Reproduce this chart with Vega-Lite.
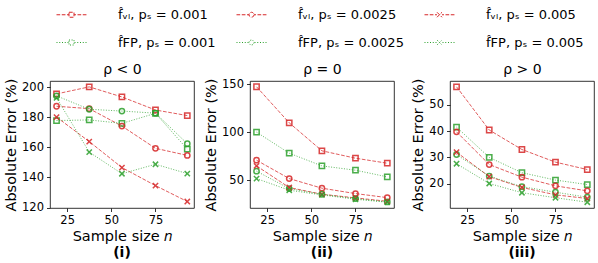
{
"$schema":"https://vega.github.io/schema/vega-lite/v6.json",
"padding":{"left":3,"right":3,"top":8,"bottom":1},
"config":{
 "font":"DejaVu Sans",
 "view":{"stroke":"#000","strokeWidth":0.8},
 "axis":{"labelFontSize":11.5,"titleFontSize":14.5,"titleFontWeight":"normal","tickSize":3.5,"tickColor":"#000","tickWidth":0.8,"labelColor":"#000","titleColor":"#000","grid":false,"domain":false,"labelPadding":3,"titlePadding":3,"labelFlush":false},
 "legend":{"orient":"none","direction":"horizontal","legendX":0,"legendY":-73,"columns":3,"labelFontSize":13,"labelColor":"#000","symbolSize":25,"symbolStrokeWidth":1,"symbolOpacity":1,"symbolOffset":15,"labelOffset":40,"columnPadding":14,"rowPadding":14},
 "title":{"color":"#000"}
},
"data":{"values":[
{"p":"neg","s":"vl1","n":19,"e":195.6},{"p":"neg","s":"vl1","n":37.5,"e":200.3},{"p":"neg","s":"vl1","n":56,"e":193.6},{"p":"neg","s":"vl1","n":75,"e":184.9},{"p":"neg","s":"vl1","n":93,"e":181.2},
{"p":"neg","s":"vl2","n":19,"e":187.4},{"p":"neg","s":"vl2","n":37.5,"e":185.8},{"p":"neg","s":"vl2","n":56,"e":174.2},{"p":"neg","s":"vl2","n":75,"e":159.4},{"p":"neg","s":"vl2","n":93,"e":154.7},
{"p":"neg","s":"vl3","n":19,"e":180.2},{"p":"neg","s":"vl3","n":37.5,"e":163.9},{"p":"neg","s":"vl3","n":56,"e":146.6},{"p":"neg","s":"vl3","n":75,"e":134.6},{"p":"neg","s":"vl3","n":93,"e":124.0},
{"p":"neg","s":"fp1","n":19,"e":177.9},{"p":"neg","s":"fp1","n":37.5,"e":178.3},{"p":"neg","s":"fp1","n":56,"e":176.0},{"p":"neg","s":"fp1","n":75,"e":182.7},{"p":"neg","s":"fp1","n":93,"e":158.9},
{"p":"neg","s":"fp2","n":19,"e":194.3},{"p":"neg","s":"fp2","n":37.5,"e":185.4},{"p":"neg","s":"fp2","n":56,"e":184.2},{"p":"neg","s":"fp2","n":75,"e":182.8},{"p":"neg","s":"fp2","n":93,"e":162.5},
{"p":"neg","s":"fp3","n":19,"e":193.0},{"p":"neg","s":"fp3","n":37.5,"e":156.9},{"p":"neg","s":"fp3","n":56,"e":142.5},{"p":"neg","s":"fp3","n":75,"e":148.8},{"p":"neg","s":"fp3","n":93,"e":142.6},
{"p":"zero","s":"vl1","n":19,"e":147.2},{"p":"zero","s":"vl1","n":37.5,"e":109.7},{"p":"zero","s":"vl1","n":56,"e":80.6},{"p":"zero","s":"vl1","n":75,"e":72.9},{"p":"zero","s":"vl1","n":93,"e":67.7},
{"p":"zero","s":"vl2","n":19,"e":70.8},{"p":"zero","s":"vl2","n":37.5,"e":51.7},{"p":"zero","s":"vl2","n":56,"e":41.7},{"p":"zero","s":"vl2","n":75,"e":36.1},{"p":"zero","s":"vl2","n":93,"e":31.9},
{"p":"zero","s":"vl3","n":19,"e":64.9},{"p":"zero","s":"vl3","n":37.5,"e":42.4},{"p":"zero","s":"vl3","n":56,"e":35.4},{"p":"zero","s":"vl3","n":75,"e":31.6},{"p":"zero","s":"vl3","n":93,"e":28.1},
{"p":"zero","s":"fp1","n":19,"e":100.0},{"p":"zero","s":"fp1","n":37.5,"e":78.1},{"p":"zero","s":"fp1","n":56,"e":64.9},{"p":"zero","s":"fp1","n":75,"e":60.4},{"p":"zero","s":"fp1","n":93,"e":53.5},
{"p":"zero","s":"fp2","n":19,"e":59.4},{"p":"zero","s":"fp2","n":37.5,"e":41.3},{"p":"zero","s":"fp2","n":56,"e":35.4},{"p":"zero","s":"fp2","n":75,"e":30.9},{"p":"zero","s":"fp2","n":93,"e":27.4},
{"p":"zero","s":"fp3","n":19,"e":51.7},{"p":"zero","s":"fp3","n":37.5,"e":39.6},{"p":"zero","s":"fp3","n":56,"e":34.7},{"p":"zero","s":"fp3","n":75,"e":30.2},{"p":"zero","s":"fp3","n":93,"e":27.1},
{"p":"pos","s":"vl1","n":19,"e":56.8},{"p":"pos","s":"vl1","n":37.5,"e":40.4},{"p":"pos","s":"vl1","n":56,"e":33.0},{"p":"pos","s":"vl1","n":75,"e":28.2},{"p":"pos","s":"vl1","n":93,"e":25.4},
{"p":"pos","s":"vl2","n":19,"e":39.7},{"p":"pos","s":"vl2","n":37.5,"e":27.3},{"p":"pos","s":"vl2","n":56,"e":22.5},{"p":"pos","s":"vl2","n":75,"e":19.2},{"p":"pos","s":"vl2","n":93,"e":17.3},
{"p":"pos","s":"vl3","n":19,"e":32.0},{"p":"pos","s":"vl3","n":37.5,"e":22.7},{"p":"pos","s":"vl3","n":56,"e":18.6},{"p":"pos","s":"vl3","n":75,"e":15.8},{"p":"pos","s":"vl3","n":93,"e":14.4},
{"p":"pos","s":"fp1","n":19,"e":41.5},{"p":"pos","s":"fp1","n":37.5,"e":30.0},{"p":"pos","s":"fp1","n":56,"e":24.2},{"p":"pos","s":"fp1","n":75,"e":21.4},{"p":"pos","s":"fp1","n":93,"e":19.7},
{"p":"pos","s":"fp2","n":19,"e":31.1},{"p":"pos","s":"fp2","n":37.5,"e":22.9},{"p":"pos","s":"fp2","n":56,"e":18.9},{"p":"pos","s":"fp2","n":75,"e":16.8},{"p":"pos","s":"fp2","n":93,"e":14.9},
{"p":"pos","s":"fp3","n":19,"e":27.6},{"p":"pos","s":"fp3","n":37.5,"e":20.1},{"p":"pos","s":"fp3","n":56,"e":16.6},{"p":"pos","s":"fp3","n":75,"e":14.7},{"p":"pos","s":"fp3","n":93,"e":13.0}
]},
"bounds":"flush",
"spacing":56,
"hconcat":[
{
"title":{"text":"(i)","orient":"bottom","fontWeight":"bold","fontSize":14,"offset":3},
"width":144,"height":127,
"transform":[{"filter":{"field":"p","equal":"neg"}}],
"layer":[
 {"mark":{"type":"point","filled":false,"opacity":0},
  "encoding":{
   "x":{"field":"n","type":"quantitative","scale":{"domain":[15.3,96.8],"nice":false,"zero":false},"axis":null},
   "y":{"field":"e","type":"quantitative","scale":{"domain":[119.7,204.2],"nice":false,"zero":false},"axis":{"values":[120,140,160,180,200],"title":"Absolute Error (%)"}},
   "color":{"field":"s","type":"nominal","scale":{"domain":["vl1","vl2","vl3","fp1","fp2","fp3"],"range":["#d62728","#d62728","#d62728","#2ca02c","#2ca02c","#2ca02c"]},"legend":{"title":null,"labelExpr":"{'vl1':'f̂ᵥₗ, pₛ = 0.001','vl2':'f̂ᵥₗ, pₛ = 0.0025','vl3':'f̂ᵥₗ, pₛ = 0.005','fp1':'f̂FP, pₛ = 0.001','fp2':'f̂FP, pₛ = 0.0025','fp3':'f̂FP, pₛ = 0.005'}[datum.label]"}},
   "shape":{"field":"s","type":"nominal","scale":{"domain":["vl1","vl2","vl3","fp1","fp2","fp3"],"range":[
     "M-6,0L-4.5,0M-3.9,0L-2.4,0M-1.8,0L-1,0M1,0L1.8,0M2.4,0L3.9,0M4.5,0L6,0M-1,-1L1,-1L1,1L-1,1Z",
     "M-6,0L-4.5,0M-3.9,0L-2.4,0M-1.8,0L-1,0M1,0L1.8,0M2.4,0L3.9,0M4.5,0L6,0M1,0L0.866,0.5L0.5,0.866L0,1L-0.5,0.866L-0.866,0.5L-1,0L-0.866,-0.5L-0.5,-0.866L0,-1L0.5,-0.866L0.866,-0.5Z",
     "M-6,0L-4.5,0M-3.9,0L-2.4,0M-1.8,0L-1,0M1,0L1.8,0M2.4,0L3.9,0M4.5,0L6,0M-1,-1L1,1M-1,1L1,-1",
     "M-6,0L-5.6,0M-4.9,0L-4.5,0M-3.8,0L-3.4,0M-2.7,0L-2.3,0M-1.6,0L-1.2,0M1.2,0L1.6,0M2.3,0L2.7,0M3.4,0L3.8,0M4.5,0L4.9,0M5.6,0L6,0M-1,-1L1,-1L1,1L-1,1Z",
     "M-6,0L-5.6,0M-4.9,0L-4.5,0M-3.8,0L-3.4,0M-2.7,0L-2.3,0M-1.6,0L-1.2,0M1.2,0L1.6,0M2.3,0L2.7,0M3.4,0L3.8,0M4.5,0L4.9,0M5.6,0L6,0M1,0L0.866,0.5L0.5,0.866L0,1L-0.5,0.866L-0.866,0.5L-1,0L-0.866,-0.5L-0.5,-0.866L0,-1L0.5,-0.866L0.866,-0.5Z",
     "M-6,0L-5.6,0M-4.9,0L-4.5,0M-3.8,0L-3.4,0M-2.7,0L-2.3,0M-1.6,0L-1.2,0M1.2,0L1.6,0M2.3,0L2.7,0M3.4,0L3.8,0M4.5,0L4.9,0M5.6,0L6,0M-1,-1L1,1M-1,1L1,-1"]},
     "legend":{"title":null,"labelExpr":"{'vl1':'f̂ᵥₗ, pₛ = 0.001','vl2':'f̂ᵥₗ, pₛ = 0.0025','vl3':'f̂ᵥₗ, pₛ = 0.005','fp1':'f̂FP, pₛ = 0.001','fp2':'f̂FP, pₛ = 0.0025','fp3':'f̂FP, pₛ = 0.005'}[datum.label]"}}}},
 {"mark":{"type":"line","strokeWidth":1,"opacity":0.75},
  "encoding":{
   "x":{"field":"n","type":"quantitative","scale":{"domain":[15.3,96.8],"nice":false,"zero":false},"axis":{"values":[25,50,75],"title":"Sample size 𝑛"}},
   "y":{"field":"e","type":"quantitative","scale":{"domain":[119.7,204.2],"nice":false,"zero":false},"axis":{"values":[120,140,160,180,200],"title":"Absolute Error (%)"}},
   "color":{"field":"s","type":"nominal"},
   "strokeDash":{"field":"s","type":"nominal","scale":{"domain":["vl1","vl2","vl3","fp1","fp2","fp3"],"range":[[3.7,1.6],[3.7,1.6],[3.7,1.6],[1,1.6],[1,1.6],[1,1.6]]},"legend":null}}},
 {"transform":[{"filter":{"field":"s","oneOf":["vl1","fp1"]}}],
  "mark":{"type":"point","shape":"square","filled":false,"size":28,"strokeWidth":1.5,"opacity":0.85},
  "encoding":{
   "x":{"field":"n","type":"quantitative","scale":{"domain":[15.3,96.8],"nice":false,"zero":false},"axis":{"orient":"top","title":"ρ < 0","labels":false,"ticks":false,"titlePadding":5,"titleFontSize":14}},
   "y":{"field":"e","type":"quantitative","scale":{"domain":[119.7,204.2],"nice":false,"zero":false},"axis":{"values":[120,140,160,180,200],"title":"Absolute Error (%)"}},
   "color":{"field":"s","type":"nominal"}}},
 {"transform":[{"filter":{"field":"s","oneOf":["vl2","fp2"]}}],
  "mark":{"type":"point","shape":"circle","filled":false,"size":28,"strokeWidth":1.5,"opacity":0.85},
  "encoding":{
   "x":{"field":"n","type":"quantitative","axis":null},
   "y":{"field":"e","type":"quantitative","scale":{"domain":[119.7,204.2],"nice":false,"zero":false},"axis":{"values":[120,140,160,180,200],"title":"Absolute Error (%)"}},
   "color":{"field":"s","type":"nominal"}}},
 {"transform":[{"filter":{"field":"s","oneOf":["vl3","fp3"]}}],
  "mark":{"type":"point","shape":"M-1,-1L1,1M-1,1L1,-1","filled":false,"size":28,"strokeWidth":1.5,"opacity":0.85},
  "encoding":{
   "x":{"field":"n","type":"quantitative","axis":null},
   "y":{"field":"e","type":"quantitative","scale":{"domain":[119.7,204.2],"nice":false,"zero":false},"axis":{"values":[120,140,160,180,200],"title":"Absolute Error (%)"}},
   "color":{"field":"s","type":"nominal"}}}
],
"resolve":{"axis":{"x":"independent"}}
},
{
"title":{"text":"(ii)","orient":"bottom","fontWeight":"bold","fontSize":14,"offset":3},
"width":144,"height":127,
"transform":[{"filter":{"field":"p","equal":"zero"}}],
"layer":[
 {"mark":{"type":"line","strokeWidth":1,"opacity":0.75},
  "encoding":{
   "x":{"field":"n","type":"quantitative","scale":{"domain":[15.3,96.8],"nice":false,"zero":false},"axis":{"values":[25,50,75],"title":"Sample size 𝑛"}},
   "y":{"field":"e","type":"quantitative","scale":{"domain":[21.1,153.2],"nice":false,"zero":false},"axis":{"values":[50,100,150],"title":"Absolute Error (%)"}},
   "color":{"field":"s","type":"nominal"},
   "strokeDash":{"field":"s","type":"nominal","legend":null}}},
 {"transform":[{"filter":{"field":"s","oneOf":["vl1","fp1"]}}],
  "mark":{"type":"point","shape":"square","filled":false,"size":28,"strokeWidth":1.5,"opacity":0.85},
  "encoding":{
   "x":{"field":"n","type":"quantitative","scale":{"domain":[15.3,96.8],"nice":false,"zero":false},"axis":{"orient":"top","title":"ρ = 0","labels":false,"ticks":false,"titlePadding":5,"titleFontSize":14}},
   "y":{"field":"e","type":"quantitative","scale":{"domain":[21.1,153.2],"nice":false,"zero":false},"axis":{"values":[50,100,150],"title":"Absolute Error (%)"}},
   "color":{"field":"s","type":"nominal"}}},
 {"transform":[{"filter":{"field":"s","oneOf":["vl2","fp2"]}}],
  "mark":{"type":"point","shape":"circle","filled":false,"size":28,"strokeWidth":1.5,"opacity":0.85},
  "encoding":{
   "x":{"field":"n","type":"quantitative","axis":null},
   "y":{"field":"e","type":"quantitative","scale":{"domain":[21.1,153.2],"nice":false,"zero":false},"axis":{"values":[50,100,150],"title":"Absolute Error (%)"}},
   "color":{"field":"s","type":"nominal"}}},
 {"transform":[{"filter":{"field":"s","oneOf":["vl3","fp3"]}}],
  "mark":{"type":"point","shape":"M-1,-1L1,1M-1,1L1,-1","filled":false,"size":28,"strokeWidth":1.5,"opacity":0.85},
  "encoding":{
   "x":{"field":"n","type":"quantitative","axis":null},
   "y":{"field":"e","type":"quantitative","scale":{"domain":[21.1,153.2],"nice":false,"zero":false},"axis":{"values":[50,100,150],"title":"Absolute Error (%)"}},
   "color":{"field":"s","type":"nominal"}}}
],
"resolve":{"axis":{"x":"independent"}}
},
{
"title":{"text":"(iii)","orient":"bottom","fontWeight":"bold","fontSize":14,"offset":3},
"width":144,"height":127,
"transform":[{"filter":{"field":"p","equal":"pos"}}],
"layer":[
 {"mark":{"type":"line","strokeWidth":1,"opacity":0.75},
  "encoding":{
   "x":{"field":"n","type":"quantitative","scale":{"domain":[15.3,96.8],"nice":false,"zero":false},"axis":{"values":[25,50,75],"title":"Sample size 𝑛"}},
   "y":{"field":"e","type":"quantitative","scale":{"domain":[10.8,59.0],"nice":false,"zero":false},"axis":{"values":[20,30,40,50],"title":"Absolute Error (%)"}},
   "color":{"field":"s","type":"nominal"},
   "strokeDash":{"field":"s","type":"nominal","legend":null}}},
 {"transform":[{"filter":{"field":"s","oneOf":["vl1","fp1"]}}],
  "mark":{"type":"point","shape":"square","filled":false,"size":28,"strokeWidth":1.5,"opacity":0.85},
  "encoding":{
   "x":{"field":"n","type":"quantitative","scale":{"domain":[15.3,96.8],"nice":false,"zero":false},"axis":{"orient":"top","title":"ρ > 0","labels":false,"ticks":false,"titlePadding":5,"titleFontSize":14}},
   "y":{"field":"e","type":"quantitative","scale":{"domain":[10.8,59.0],"nice":false,"zero":false},"axis":{"values":[20,30,40,50],"title":"Absolute Error (%)"}},
   "color":{"field":"s","type":"nominal"}}},
 {"transform":[{"filter":{"field":"s","oneOf":["vl2","fp2"]}}],
  "mark":{"type":"point","shape":"circle","filled":false,"size":28,"strokeWidth":1.5,"opacity":0.85},
  "encoding":{
   "x":{"field":"n","type":"quantitative","axis":null},
   "y":{"field":"e","type":"quantitative","scale":{"domain":[10.8,59.0],"nice":false,"zero":false},"axis":{"values":[20,30,40,50],"title":"Absolute Error (%)"}},
   "color":{"field":"s","type":"nominal"}}},
 {"transform":[{"filter":{"field":"s","oneOf":["vl3","fp3"]}}],
  "mark":{"type":"point","shape":"M-1,-1L1,1M-1,1L1,-1","filled":false,"size":28,"strokeWidth":1.5,"opacity":0.85},
  "encoding":{
   "x":{"field":"n","type":"quantitative","axis":null},
   "y":{"field":"e","type":"quantitative","scale":{"domain":[10.8,59.0],"nice":false,"zero":false},"axis":{"values":[20,30,40,50],"title":"Absolute Error (%)"}},
   "color":{"field":"s","type":"nominal"}}}
],
"resolve":{"axis":{"x":"independent"}}
}
]
}
